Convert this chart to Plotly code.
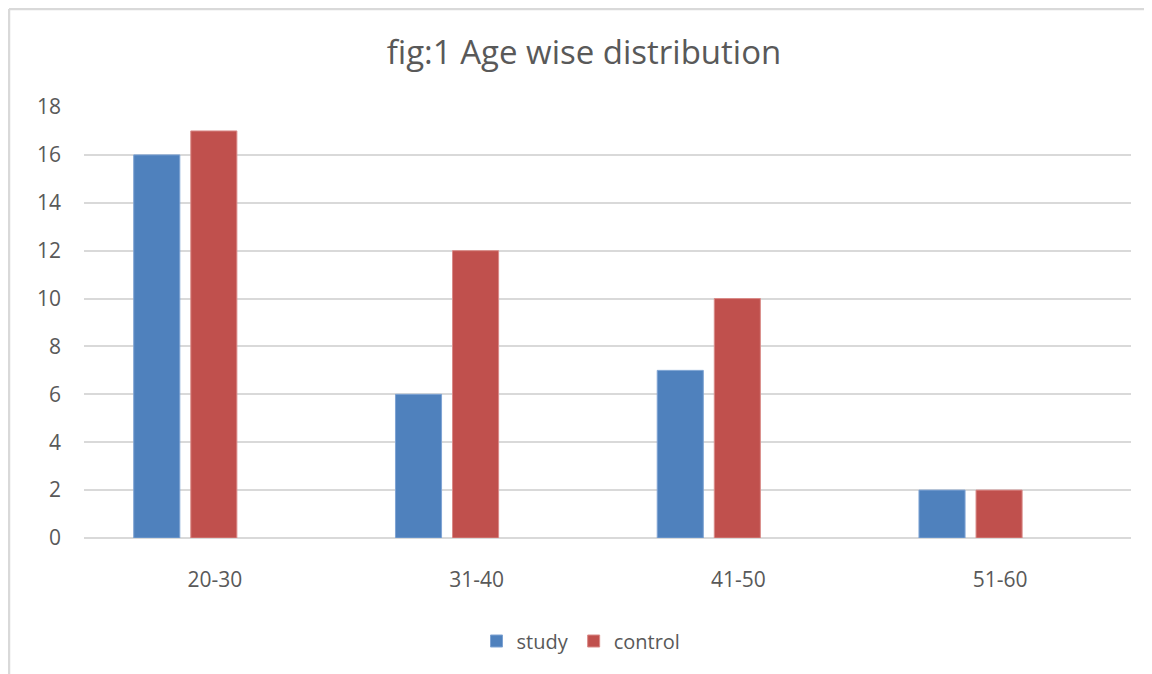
import plotly.graph_objects as go

categories = ["20-30", "31-40", "41-50", "51-60"]
study = [16, 6, 7, 2]
control = [17, 12, 10, 2]
y_ticks = [0, 2, 4, 6, 8, 10, 12, 14, 16, 18]

# page body adds an 8px offset; figure coordinates account for it
W, H = 1152, 674
L, R, T, B = 76, 29, 99, 144
pw, ph = W - L - R, H - T - B

font = "Open Sans"
txt = "#595959"
grid = "#d9d9d9"

fig = go.Figure()
fig.add_trace(go.Bar(x=categories, y=study, name="study",
                     marker=dict(color="#4F81BD", line=dict(color="#7EA3D3", width=1)),
                     width=0.176, offset=-0.31))
fig.add_trace(go.Bar(x=categories, y=control, name="control",
                     marker=dict(color="#C0504D", line=dict(color="#D98A88", width=1)),
                     width=0.176, offset=-0.092))

# chart border (left and top edges visible)
bx = (1 - L) / pw
by = (H - B - 1) / ph
fig.add_shape(type="line", xref="paper", yref="paper", x0=bx, x1=bx, y0=by, y1=-0.6,
              line=dict(color="#d9d9d9", width=2.5))
fig.add_shape(type="line", xref="paper", yref="paper", x0=bx, x1=1.2, y0=by, y1=by,
              line=dict(color="#d9d9d9", width=2.5))

fig.update_layout(
    width=W, height=H,
    margin=dict(l=L, r=R, t=T, b=B, autoexpand=False),
    paper_bgcolor="white", plot_bgcolor="white",
    barmode="group",
    title=dict(text="fig:1 Age wise distribution", x=0.5, xref="container", xanchor="center",
               y=1 - 44 / H, yref="container", yanchor="middle",
               font=dict(family=font, size=33, color=txt)),
    font=dict(family=font, color=txt),
    showlegend=True,
    legend=dict(orientation="h", x=(573 - L) / pw, xref="paper", xanchor="center",
                y=-(633 - (H - B)) / ph, yanchor="middle",
                font=dict(family=font, size=20, color=txt),
                itemwidth=30, tracegroupgap=0),
    xaxis=dict(showgrid=False, showline=False, zeroline=False, ticks="",
               tickfont=dict(family=font, size=21, color=txt), ticklabelstandoff=27),
    yaxis=dict(range=[0, 18], tickvals=y_ticks, showgrid=True, gridcolor=grid, gridwidth=1.5,
               zeroline=True, zerolinecolor=grid, zerolinewidth=1.5, showline=False, ticks="",
               tickfont=dict(family=font, size=21, color=txt), ticklabelstandoff=22),
)

fig.write_html("out.html")
